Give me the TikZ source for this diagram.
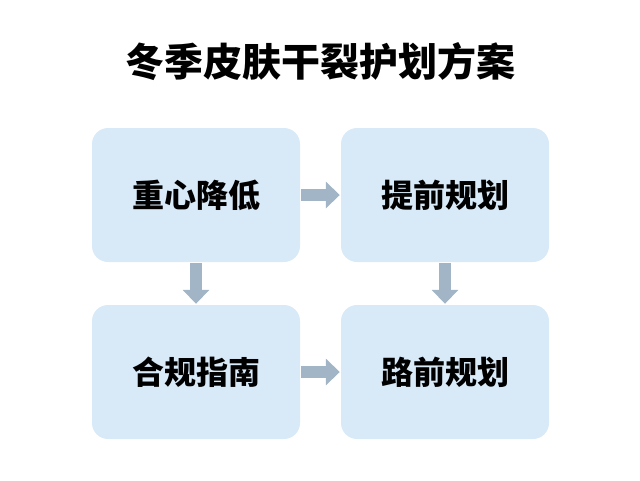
\documentclass[tikz,border=0pt]{standalone}
\usepackage{fontspec}
\setmainfont{Noto Sans CJK SC}[BoldFont={Noto Sans CJK SC Black}]
\usetikzlibrary{arrows.meta}
\begin{document}
\begin{tikzpicture}[x=1pt,y=-1pt,
  box/.style={draw=none,fill=boxblue,rounded corners=16pt,minimum width=208pt,minimum height=134pt,font=\bfseries\fontsize{32}{36}\selectfont},
  arr/.style={draw=arrgray,line width=12pt,-{Triangle[width=26pt,length=14pt]},shorten <=1pt,shorten >=1pt}]
\definecolor{boxblue}{HTML}{D8EAF8}
\definecolor{arrgray}{HTML}{A2B5C6}
\useasboundingbox (0,0) rectangle (640,480);
\node[font=\bfseries\fontsize{39}{44}\selectfont] (t) at (320,62) {冬季皮肤干裂护划方案};
\node[box] (a) at (196,195) {重心降低};
\node[box] (b) at (445,195) {提前规划};
\node[box] (c) at (196,372) {合规指南};
\node[box] (d) at (445,372) {路前规划};
\draw[arr] (a.east) -- (b.west);
\draw[arr] (c.east) -- (d.west);
\draw[arr] (a.south) -- (c.north);
\draw[arr] (b.south) -- (d.north);
\end{tikzpicture}
\end{document}
